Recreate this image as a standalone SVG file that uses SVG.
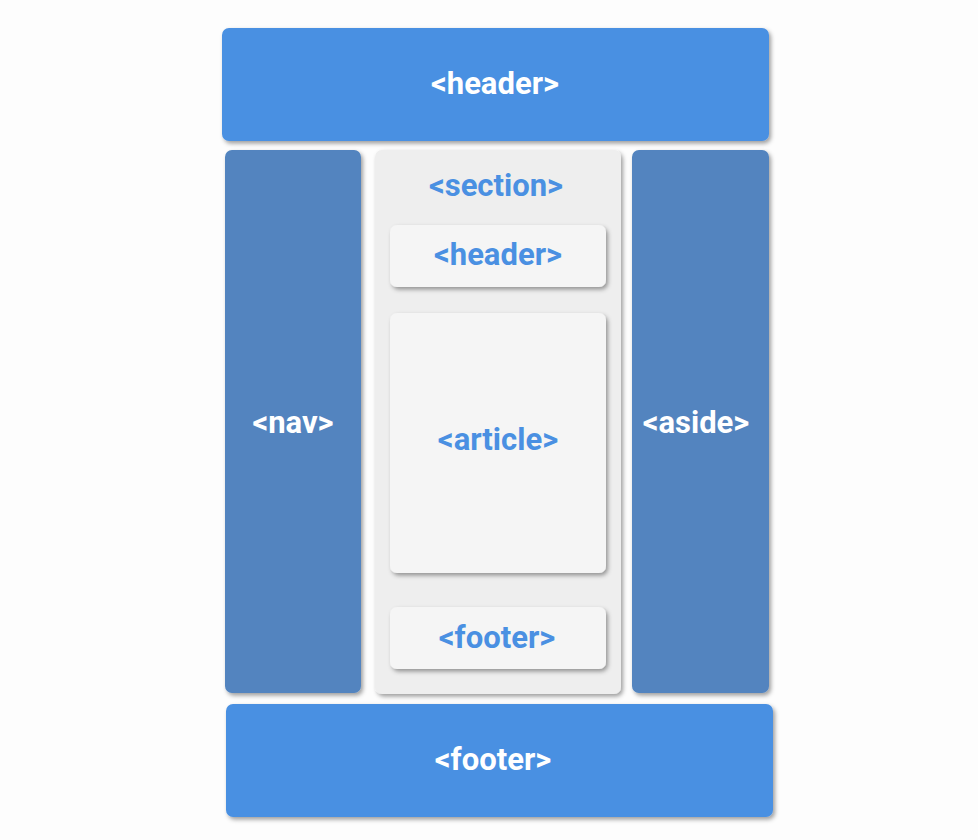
<svg xmlns="http://www.w3.org/2000/svg" width="978" height="840" viewBox="0 0 978 840">
<defs>
<filter id="sh" x="-10%" y="-10%" width="130%" height="130%">
<feDropShadow dx="2" dy="2.5" stdDeviation="2" flood-color="#000" flood-opacity="0.38"/>
</filter>
<style>
.t{font-family:Roboto,"Liberation Sans",sans-serif;font-weight:bold;font-size:31px;text-anchor:middle}
.w{fill:#ffffff}
.b{fill:#4A90E2}
.main{fill:#4A90E2}
.side{fill:#5284BF}
.sec{fill:#EEEEEE}
.in{fill:#F5F5F5}
</style>
</defs>
<rect width="978" height="840" fill="#fdfdfd"/>
<g id="header">
<rect class="main" x="222" y="28" width="547" height="113" rx="7" filter="url(#sh)"/>
<text class="t w" x="495" y="94">&lt;header&gt;</text>
</g>
<g id="nav">
<rect class="side" x="225" y="150" width="136" height="543" rx="7" filter="url(#sh)"/>
<text class="t w" x="293" y="433">&lt;nav&gt;</text>
</g>
<g id="section">
<rect class="sec" x="375" y="150" width="246" height="544" rx="7" filter="url(#sh)"/>
<text class="t b" x="496" y="196">&lt;section&gt;</text>
</g>
<g id="section-header">
<rect class="in" x="390" y="225" width="216" height="62" rx="7" filter="url(#sh)"/>
<text class="t b" x="498" y="265">&lt;header&gt;</text>
</g>
<g id="article">
<rect class="in" x="390" y="313" width="216" height="260" rx="7" filter="url(#sh)"/>
<text class="t b" x="498" y="450">&lt;article&gt;</text>
</g>
<g id="section-footer">
<rect class="in" x="390" y="607" width="216" height="62" rx="7" filter="url(#sh)"/>
<text class="t b" x="497" y="648">&lt;footer&gt;</text>
</g>
<g id="aside">
<rect class="side" x="632" y="150" width="137" height="543" rx="7" filter="url(#sh)"/>
<text class="t w" x="696" y="433">&lt;aside&gt;</text>
</g>
<g id="footer">
<rect class="main" x="226" y="704" width="547" height="113" rx="7" filter="url(#sh)"/>
<text class="t w" x="493" y="770">&lt;footer&gt;</text>
</g>
<g id="connectors"/>
</svg>
